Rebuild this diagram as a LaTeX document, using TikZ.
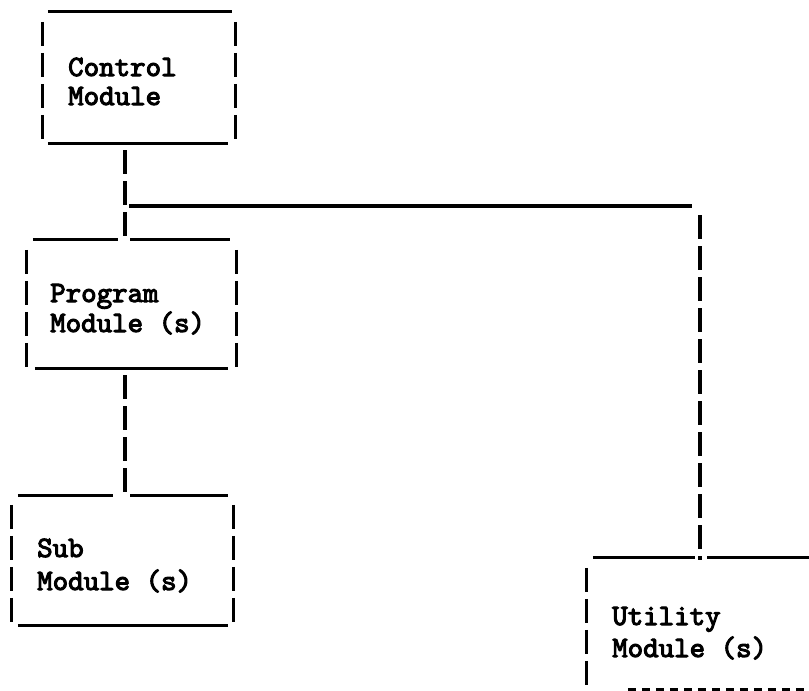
\documentclass[tikz,border=0pt]{standalone}
\usepackage{fontspec}
\usetikzlibrary{calc}
\newfontfamily\tw{lmmono10-regular.otf}[FakeBold=3.5]
\begin{document}
\begin{tikzpicture}[x=1pt,y=-1pt,
  hb/.style={line width=3.2pt},
  vb/.style={line width=3.1pt, dash pattern=on 24pt off 7pt},
  botdash/.style={line width=3pt, dash pattern=on 8pt off 6pt},
  modbox/.style={rectangle, draw=none, inner sep=0pt},
  lbl/.style={anchor=base west, inner sep=0pt, font=\fontsize{29.5}{30}\tw}]
\useasboundingbox (0,0) rectangle (809,691);
\clip (0,0) rectangle (809,691);
% invisible box nodes
\node[modbox, minimum width=192pt, minimum height=131pt] (ctrl) at (139,77.5) {};
\node[modbox, minimum width=209pt, minimum height=128pt] (prog) at (131.5,304) {};
\node[modbox, minimum width=221pt, minimum height=129pt] (sub) at (122.5,560.5) {};
\node[modbox, minimum width=226pt, minimum height=131pt] (util) at (700,623.5) {};
\coordinate (trunk) at (125,0);
\coordinate (rtrunk) at (700,0);
\coordinate (ja) at (129,206);
\coordinate (jb) at (692,206);
% labels
\node[lbl] (ctrlA) at (68,76) {Control};
\node[lbl] (ctrlB) at (68,105) {Module};
\node[lbl] (progA) at (50,302) {Program};
\node[lbl] (progB) at (50,332) {Module (s)};
\node[lbl] (subA) at (37,557) {Sub};
\node[lbl] (subB) at (37,590) {Module (s)};
\node[lbl] (utilA) at (612,625) {Utility};
\node[lbl] (utilB) at (612,657) {Module (s)};
% control box
\draw[hb] ($(ctrl.north west)+(5,0)$) -- ($(ctrl.north east)+(-3,0)$);
\draw[hb] ($(ctrl.south west)+(5,0)$) -- ($(ctrl.south east)+(-7,0)$);
\draw[vb] ($(ctrl.north west)+(0,10)$) -- ($(ctrl.south west)+(0,2)$);
\draw[vb] ($(ctrl.north east)+(0,10)$) -- ($(ctrl.south east)+(0,2)$);
% program box
\draw[hb] ($(prog.north west)+(6,0)$) -- ($(trunk |- prog.north)+(-7,0)$);
\draw[hb] ($(trunk |- prog.north)+(5,0)$) -- ($(prog.north east)+(-6,0)$);
\draw[hb] ($(prog.south west)+(8,0)$) -- ($(prog.south east)+(-8,0)$);
\draw[vb] ($(prog.north west)+(0,10)$) -- ($(prog.south west)+(0,2)$);
\draw[vb] ($(prog.north east)+(0,10)$) -- ($(prog.south east)+(0,2)$);
% sub box
\draw[hb] ($(sub.north west)+(6,0)$) -- ($(trunk |- sub.north)+(-12,0)$);
\draw[hb] ($(trunk |- sub.north)+(5,0)$) -- ($(sub.north east)+(-5,0)$);
\draw[hb] ($(sub.south west)+(6,0)$) -- ($(sub.south east)+(-5,0)$);
\draw[vb] ($(sub.north west)+(0,9)$) -- ($(sub.south west)+(0,2)$);
\draw[vb] ($(sub.north east)+(0,9)$) -- ($(sub.south east)+(0,2)$);
% utility box
\draw[hb] ($(util.north west)+(6,0)$) -- ($(util.north)+(-5,0)$);
\draw[hb] ($(util.north)+(7,0)$) -- (util.north east);
\draw[vb] ($(util.north west)+(0,10)$) -- ($(util.south west)+(0,2)$);
\draw[botdash] ($(util.south west)+(41,0)$) -- (util.south east);
% connectors
\draw[vb] ($(ctrl.south -| trunk)+(0,7)$) -- ($(prog.north -| trunk)+(0,2)$);
\draw[hb] (ja) -- (jb);
\draw[vb] ($(rtrunk |- jb)+(0,9)$) -- ($(util.north)+(0,2)$);
\draw[vb] ($(prog.south -| trunk)+(0,7)$) -- ($(sub.north -| trunk)+(0,2)$);
\end{tikzpicture}
\end{document}
